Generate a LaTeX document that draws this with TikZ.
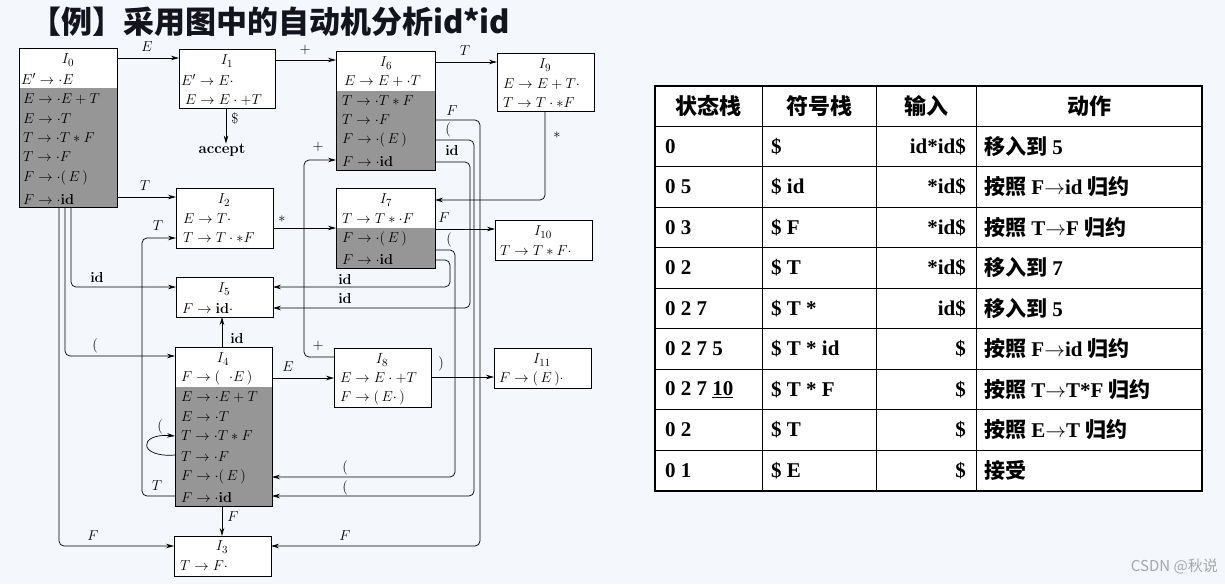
\documentclass[tikz,border=0pt]{standalone}
\usepackage[no-math]{fontspec}
\usetikzlibrary{arrows.meta,calc}
\newfontfamily\tnr{Liberation Serif}
\newfontfamily\cjk{Noto Sans CJK SC}
\newcommand{\zh}[1]{{\cjk\bfseries #1}}
\definecolor{bgc}{RGB}{244,248,252}
\definecolor{shd}{RGB}{150,150,150}
\definecolor{ttl}{RGB}{20,20,30}
\begin{document}
\begin{tikzpicture}[x=1pt,y=-1pt,
  box/.style={draw,line width=0.8pt,fill=white,inner sep=0pt,outer sep=0pt,anchor=north west},
  shade/.style={path picture={\fill[shd] ([yshift=-#1pt]path picture bounding box.north west) rectangle (path picture bounding box.south east);}},
  it/.style={anchor=west,inner sep=0pt,font=\fontsize{15}{17}\selectfont},
  ti/.style={inner sep=0pt,font=\fontsize{15}{17}\selectfont},
  lb/.style={inner sep=0pt,font=\fontsize{14.5}{16}\selectfont},
  arr/.style={line width=0.7pt,-{Stealth[length=8pt,width=4.5pt]},rounded corners=5pt},
  tc/.style={inner sep=0pt,font=\tnr\bfseries\fontsize{21}{24}\selectfont},
  th/.style={inner sep=0pt,font=\cjk\bfseries\fontsize{22}{24}\selectfont}]
\useasboundingbox (0,0) rectangle (1225,584);
\fill[bgc] (0,0) rectangle (1225,584);
\node[anchor=west,inner sep=0pt,text=ttl,font=\cjk\bfseries\fontsize{31}{34}\selectfont] (title) at (30,22) {【例】采用图中的自动机分析id*id};
% states
\node[box,shade=40,minimum width=98pt,minimum height=159pt] (I0) at (19,48) {};
\node[box,minimum width=96pt,minimum height=59pt] (I1) at (179,49) {};
\node[box,shade=40,minimum width=99pt,minimum height=119pt] (I6) at (336,51) {};
\node[box,minimum width=97pt,minimum height=58pt] (I9) at (497,53) {};
\node[box,minimum width=97pt,minimum height=60pt] (I2) at (176,188) {};
\node[box,shade=40,minimum width=99pt,minimum height=80pt] (I7) at (336,188) {};
\node[box,minimum width=97pt,minimum height=40pt] (I10) at (495,220) {};
\node[box,minimum width=97pt,minimum height=40pt] (I5) at (176,277) {};
\node[box,shade=40,minimum width=97pt,minimum height=159pt] (I4) at (175,347) {};
\node[box,minimum width=97pt,minimum height=59pt] (I8) at (334,348) {};
\node[box,minimum width=97pt,minimum height=40pt] (I11) at (494,348) {};
\node[box,minimum width=97pt,minimum height=40pt] (I3) at (174,536) {};
\node[lb,font=\bfseries\fontsize{15}{17}\selectfont] (acc) at (222,150) {accept};
% contents
\node[ti] (t0) at (68,60) {$I_0$};
\node[it] (a1) at (21,79) {$E'\to\cdot E$};
\node[it] (a2) at (23,99) {$E\to\cdot E+T$};
\node[it] (a3) at (23,119) {$E\to\cdot T$};
\node[it] (a4) at (23,138) {$T\to\cdot T*F$};
\node[it] (a5) at (23,157) {$T\to\cdot F$};
\node[it] (a6) at (23,178) {$F\to\cdot(\,E\,)$};
\node[it] (a7) at (23,199) {$F\to\cdot\mathbf{id}$};
\node[ti] (t1) at (227,61) {$I_1$};
\node[it] (b1) at (181,80) {$E'\to E\cdot$};
\node[it] (b2) at (185,100) {$E\to E\cdot+T$};
\node[ti] (t6) at (386,63) {$I_6$};
\node[it] (c1) at (344,81) {$E\to E+\cdot T$};
\node[it] (c2) at (342,101) {$T\to\cdot T*F$};
\node[it] (c3) at (342,120) {$T\to\cdot F$};
\node[it] (c4) at (342,140) {$F\to\cdot(\,E\,)$};
\node[it] (c5) at (342,161) {$F\to\cdot\mathbf{id}$};
\node[ti] (t9) at (545,65) {$I_9$};
\node[it] (d1) at (503,84) {$E\to E+T\cdot$};
\node[it] (d2) at (503,103) {$T\to T\cdot*F$};
\node[ti] (t2) at (224,200) {$I_2$};
\node[it] (e1) at (183,219) {$E\to T\cdot$};
\node[it] (e2) at (183,238) {$T\to T\cdot*F$};
\node[ti] (t7) at (386,200) {$I_7$};
\node[it] (f1) at (342,219) {$T\to T*\cdot F$};
\node[it] (f2) at (342,239) {$F\to\cdot(\,E\,)$};
\node[it] (f3) at (342,259) {$F\to\cdot\mathbf{id}$};
\node[ti] (t10) at (543,232) {$I_{10}$};
\node[it] (g1) at (500,251) {$T\to T*F\cdot$};
\node[ti] (t5) at (224,289) {$I_5$};
\node[it] (h1) at (182,308) {$F\to\mathbf{id}\cdot$};
\node[ti] (t4) at (223,359) {$I_4$};
\node[it] (k1) at (181,378) {$F\to(\ \ \cdot E\,)$};
\node[it] (k2) at (181,397) {$E\to\cdot E+T$};
\node[it] (k3) at (181,417) {$E\to\cdot T$};
\node[it] (k4) at (181,436) {$T\to\cdot T*F$};
\node[it] (k5) at (181,457) {$T\to\cdot F$};
\node[it] (k6) at (181,477) {$F\to\cdot(\,E\,)$};
\node[it] (k7) at (181,497) {$F\to\cdot\mathbf{id}$};
\node[ti] (t8) at (382,360) {$I_8$};
\node[it] (m1) at (340,378) {$E\to E\cdot+T$};
\node[it] (m2) at (340,398) {$F\to(\,E\cdot\,)$};
\node[ti] (t11) at (542,360) {$I_{11}$};
\node[it] (n1) at (499,379) {$F\to(\,E\,)\cdot$};
\node[ti] (t3) at (222,547) {$I_3$};
\node[it] (p1) at (180,566) {$T\to F\cdot$};
% edges
\draw[arr] (I0.east|-0,58) -- (I1.west|-0,58);
\node[lb] (l1) at (147,47) {$E$};
\draw[arr] (I1.east|-0,60) -- (I6.west|-0,60);
\node[lb] (l2) at (305,50) {$+$};
\draw[arr] (I6.east|-0,62) -- (I9.west|-0,62);
\node[lb] (l3) at (465,51) {$T$};
\draw[arr] (I1.south-|226,0) -- (acc.north-|226,0);
\node[lb] (l4) at (235,118) {$\$$};
\draw[arr] (I9.south-|545,0) -- (545,200) -- (I7.east|-0,200);
\node[lb] (l5) at (557,135) {$*$};
\draw[arr] (I0.east|-0,197) -- (I2.west|-0,197);
\node[lb] (l6) at (145,186) {$T$};
\draw[arr] (I2.east|-0,228) -- (I7.west|-0,228);
\node[lb] (l7) at (282,219) {$*$};
\draw[arr] (I7.east|-0,229) -- (I10.west|-0,229);
\node[lb] (l8) at (444,218) {$F$};
\draw[arr] (I6.east|-0,120) -- (480,120) -- (480,546) -- (I3.east|-0,546);
\node[lb] (l9) at (452,111) {$F$};
\node[lb] (l10) at (345,536) {$F$};
\draw[arr] (I6.east|-0,140) -- (474,140) -- (474,496) -- (I4.east|-0,496);
\node[lb] (l11) at (448,130) {$($};
\node[lb] (l12) at (345,488) {$($};
\draw[arr] (I6.east|-0,162) -- (470,162) -- (470,308) -- (I5.east|-0,308);
\node[lb] (l13) at (452,150) {$\mathbf{id}$};
\node[lb] (l14) at (345,298) {$\mathbf{id}$};
\draw[arr] (I7.east|-0,250) -- (455,250) -- (455,477) -- (I4.east|-0,477);
\node[lb] (l15) at (449,240) {$($};
\node[lb] (l16) at (345,468) {$($};
\draw[arr] (I7.east|-0,260) -- (450,260) -- (450,287) -- (I5.east|-0,287);
\node[lb] (l17) at (345,279) {$\mathbf{id}$};
\draw[arr] (71,0|-I0.south) -- (71,287) -- (I5.west|-0,287);
\node[lb] (l18) at (97,277) {$\mathbf{id}$};
\draw[arr] (65,0|-I0.south) -- (65,356) -- (I4.west|-0,356);
\node[lb] (l19) at (95,346) {$($};
\draw[arr] (59,0|-I0.south) -- (59,546) -- (I3.west|-0,546);
\node[lb] (l20) at (93,536) {$F$};
\draw[arr] (I4.west|-0,496) -- (142,496) -- (142,238) -- (I2.west|-0,238);
\node[lb] (l21) at (158,226) {$T$};
\node[lb] (l22) at (157,486) {$T$};
\draw[arr] (I4.west|-0,455) .. controls (138,458) and (138,433) .. (I4.west|-0,436);
\node[lb] (l23) at (160,427) {$($};
\draw[arr] (I4.north-|222,0) -- (I5.south-|222,0);
\node[lb] (l24) at (237,338) {$\mathbf{id}$};
\draw[arr] (I4.south-|222,0) -- (I3.north-|222,0);
\node[lb] (l25) at (233,517) {$F$};
\draw[arr] (I4.east|-0,378) -- (I8.west|-0,378);
\node[lb] (l26) at (288,367) {$E$};
\draw[arr] (I8.west|-0,357) -- (304,357) -- (304,160) -- (I6.west|-0,160);
\node[lb] (l27) at (318,346) {$+$};
\node[lb] (l28) at (318,147) {$+$};
\draw[arr] (I8.east|-0,377) -- (I11.west|-0,377);
\node[lb] (l29) at (441,364) {$)$};
% table
\node[draw=black,line width=1.6pt,fill=white,inner sep=0pt,outer sep=0pt,anchor=north west,minimum width=547pt,minimum height=405pt] (tab) at (655,86) {};
\foreach \x in {762,876,976} \draw[line width=0.9pt] (\x,0|-tab.north) -- (\x,0|-tab.south);
\foreach \i in {0,...,8} \draw[line width=0.9pt] (tab.west|-0,{126+40.5*\i}) -- (tab.east|-0,{126+40.5*\i});
\node[th] (h1) at (708,106) {状态栈};
\node[th] (h2) at (819,106) {符号栈};
\node[th] (h3) at (926,106) {输入};
\node[th] (h4) at (1089,106) {动作};
\foreach \i/\s/\y/\z/\w in {
 0/0/\$/id*id\$/\zh{移入到} 5,
 1/0 5/\$ id/*id\$/\zh{按照} F$\to$id \zh{归约},
 2/0 3/\$ F/*id\$/\zh{按照} T$\to$F \zh{归约},
 3/0 2/\$ T/*id\$/\zh{移入到} 7,
 4/0 2 7/\$ T */id\$/\zh{移入到} 5,
 5/0 2 7 5/\$ T * id/\$/\zh{按照} F$\to$id \zh{归约},
 6/0 2 7 \underline{10}/\$ T * F/\$/\zh{按照} T$\to$T*F \zh{归约},
 7/0 2/\$ T/\$/\zh{按照} E$\to$T \zh{归约},
 8/0 1/\$ E/\$/\zh{接受}} {
  \node[tc,anchor=west] (c1r\i) at (665,{146.5+40.5*\i}) {\s};
  \node[tc,anchor=west] (c2r\i) at (771,{146.5+40.5*\i}) {\y};
  \node[tc,anchor=east] (c3r\i) at (966,{146.5+40.5*\i}) {\z};
  \node[tc,anchor=west] (c4r\i) at (984,{146.5+40.5*\i}) {\w};
}
\node[anchor=east,inner sep=0pt,text=gray!70,font=\cjk\fontsize{15}{17}\selectfont] (wm) at (1218,566) {CSDN @秋说};
\end{tikzpicture}
\end{document}
